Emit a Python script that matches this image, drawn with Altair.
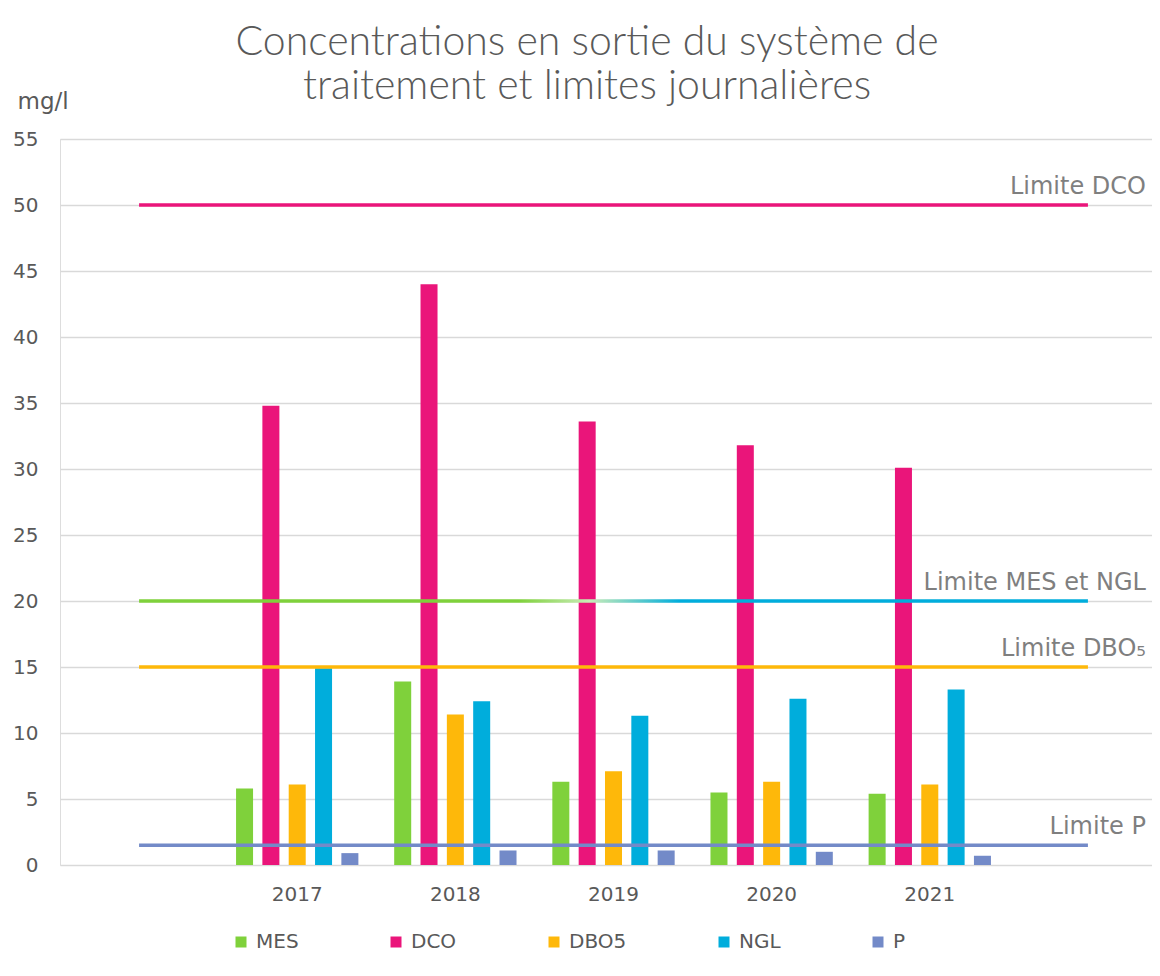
import altair as alt
import pandas as pd

# ---- data ----
years = ["2017", "2018", "2019", "2020", "2021"]
slots = [" ", "2017", "2018", "2019", "2020", "2021", "  "]   # empty slots before / after
series = ["MES", "DCO", "DBO5", "NGL", "P"]
series_colors = ["#7FD13B", "#EA157A", "#FEB80A", "#00ADDC", "#738AC8"]

mes = [5.8, 13.9, 6.3, 5.5, 5.4]
dco = [34.8, 44.0, 33.6, 31.8, 30.1]
dbo5 = [6.1, 11.4, 7.1, 6.3, 6.1]
ngl = [14.9, 12.4, 11.3, 12.6, 13.3]
p = [0.9, 1.1, 1.1, 1.0, 0.7]

limit_names = ["Limite DCO", "Limite MES et NGL", "Limite DBO₅", "Limite P"]
limit_values = [50, 20, 15, 1.5]
limit_colors = ["#EA157A", "#00ADDC", "#FEB80A", "#738AC8"]

y_ticks = list(range(0, 56, 5))

# ---- tables ----
rows = []
for s, vals in zip(series, [mes, dco, dbo5, ngl, p]):
    for yr, v in zip(years, vals):
        rows.append({"year": yr, "series": s, "value": v})
bars_df = pd.DataFrame(rows)

lim_df = pd.DataFrame({
    "name": limit_names,
    "value": limit_values,
    "color": limit_colors,
    "start": [slots[0]] * 4,
    "end": [slots[-1]] * 4,
})
solid_df = lim_df[lim_df["name"] != "Limite MES et NGL"]
grad_df = lim_df[lim_df["name"] == "Limite MES et NGL"]

FONT = "DejaVu Sans"
GREY = "#595959"

x_scale = alt.Scale(domain=slots, range=[0, 1107], paddingInner=0, paddingOuter=0)
y_scale = alt.Scale(domain=[0, 55], nice=False)

bars = alt.Chart(bars_df).mark_bar().encode(
    x=alt.X("year:N", scale=x_scale, sort=slots,
            axis=alt.Axis(title=None, labelAngle=0, domain=False, ticks=False,
                          labelPadding=19, labelFontSize=20, labelFont=FONT,
                          labelColor=GREY, grid=False)),
    xOffset=alt.XOffset("series:N", sort=series,
                        scale=alt.Scale(domain=series, paddingInner=0.354, paddingOuter=0.68)),
    y=alt.Y("value:Q", scale=y_scale,
            axis=alt.Axis(title="mg/l", values=y_ticks, domain=False, ticks=False,
                          labelPadding=22, labelFontSize=20, labelFont=FONT,
                          labelColor=GREY, gridColor="#D9D9D9", gridWidth=1.6,
                          titleAngle=0, titleX=-43, titleY=-31, titleAlign="left",
                          titleBaseline="alphabetic", titleFontSize=23,
                          titleFontWeight="normal", titleFont=FONT, titleColor=GREY)),
    color=alt.Color("series:N", scale=alt.Scale(domain=series, range=series_colors),
                    legend=alt.Legend(title=None, orient="none", direction="horizontal",
                                      legendX=171, legendY=793, symbolType="square",
                                      symbolSize=121, symbolStrokeWidth=0,
                                      columnPadding=87, labelOffset=5,
                                      labelFontSize=20, labelFont=FONT, labelColor=GREY,
                                      padding=0)),
)

solid = alt.Chart(solid_df).mark_rule(strokeWidth=3.5).encode(
    x=alt.X("start:N", scale=x_scale, sort=slots),
    x2=alt.X2("end:N"),
    y=alt.Y("value:Q", scale=y_scale),
    color=alt.Color("color:N", scale=None),
)

gradient = alt.LinearGradient(
    gradient="linear",
    stops=[alt.GradientStop(color="#7FD13B", offset=0),
           alt.GradientStop(color="#7FD13B", offset=0.40),
           alt.GradientStop(color="#C8ECB8", offset=0.475),
           alt.GradientStop(color="#00ADDC", offset=0.57),
           alt.GradientStop(color="#00ADDC", offset=1)],
    x1=0, x2=1, y1=0, y2=0,
)

grad = alt.Chart(grad_df).mark_rect(color=gradient).transform_calculate(
    lo="datum.value - 0.13", hi="datum.value + 0.13"
).encode(
    x=alt.X("start:N", scale=x_scale, sort=slots, bandPosition=0.5),
    x2=alt.X2("end:N", bandPosition=0.5),
    y=alt.Y("lo:Q", scale=y_scale),
    y2=alt.Y2("hi:Q"),
)

labels = alt.Chart(lim_df).mark_text(
    align="right", baseline="alphabetic", dx=58, dy=-11,
    font=FONT, fontSize=24, color="#7F7F7F",
).encode(
    x=alt.X("end:N", scale=x_scale, sort=slots),
    y=alt.Y("value:Q", scale=y_scale),
    text="name:N",
)

chart = alt.layer(bars, grad, solid, labels).properties(
    width=1092,
    height=726,
    title=alt.TitleParams(
        text=["Concentrations en sortie du système de", "traitement et limites journalières"],
        font="Lato", fontSize=41, fontWeight=300, color=GREY,
        anchor="middle", dx=-19, dy=56, offset=38, lineHeight=44,
    ),
    autosize=alt.AutoSizeParams(type="none"),
    padding={"left": 52, "top": 131, "right": 0, "bottom": 103},
).configure_view(stroke=None).configure(background="white")

chart.save("out.html", embed_options={"renderer": "svg", "actions": False})
